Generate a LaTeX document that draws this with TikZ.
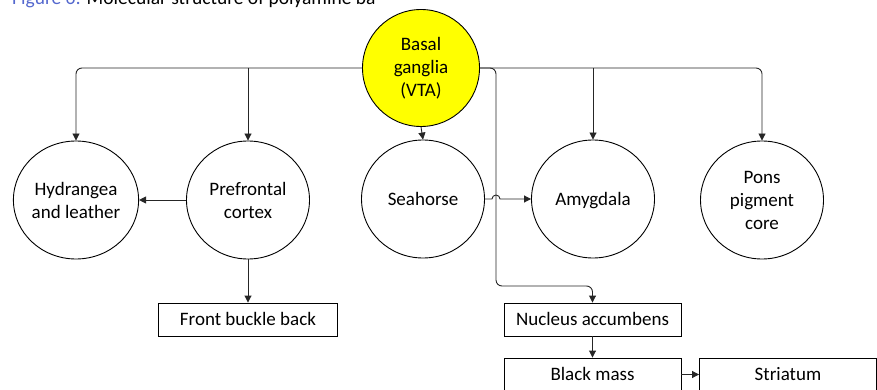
\documentclass[tikz,border=0pt]{standalone}
\usepackage{fontspec}
\setmainfont{Carlito}
\usetikzlibrary{arrows.meta,shapes.geometric}
\definecolor{capblue}{RGB}{84,104,206}
\definecolor{vtayellow}{RGB}{255,255,0}
\begin{document}
\begin{tikzpicture}[x=1pt,y=-1pt,
  every node/.style={font=\fontsize{19}{23}\selectfont, align=center},
  one line/.style={text height=14pt, text depth=2pt},
  region/.style={draw=black, line width=0.9pt, ellipse, minimum width=123pt, minimum height=118pt, inner sep=0pt},
  hub/.style={draw=black, line width=0.9pt, circle, fill=vtayellow, minimum size=117pt, inner sep=0pt},
  label box/.style={draw=black, line width=0.9pt, rectangle, minimum width=177pt, minimum height=33pt, inner sep=0pt, one line},
  link/.style={line width=0.9pt, draw=black!85, -{Triangle[length=7pt,width=7pt]}}]
\useasboundingbox (0,0) rectangle (877,390);

% caption line along the top edge
\node[anchor=base west, inner sep=0pt, font=\fontsize{19.5}{23}\selectfont] (cap) at (12,5)
  {\textcolor{capblue}{Figure 6:} Molecular structure of polyamine ba};

% hub and target regions
\node[hub] (vta) at (421,68) {Basal\\ganglia\\(VTA)};
\node[region] (hyd)  at (76,200)  {Hydrangea\\and leather};
\node[region] (pfc)  at (248,200) {Prefrontal\\cortex};
\node[region, one line] (sea)  at (423,199) {Seahorse};
\node[region, one line] (amy)  at (593,199) {Amygdala};
\node[region] (pons) at (762,200) {Pons\\pigment\\core};

% rectangular targets
\node[label box, minimum width=179pt] (fbb) at (248,319.5) {Front buckle back};
\node[label box] (nac) at (592.5,319.5) {Nucleus accumbens};
\node[label box] (blk) at (592.5,374.5) {Black mass};
\node[label box] (str) at (788,374.5) {Striatum};

% branching bus from the hub
\coordinate (tapL) at (pfc.north |- vta.west);
\coordinate (tapA) at (amy.north |- vta.east);
\coordinate (drop) at (496,68);
\coordinate (bend) at (496,286);
\draw[link, rounded corners=6pt] (vta.west) -| (hyd.north);
\draw[link] (tapL) -- (pfc.north);
\draw[link] (vta.south) -- (sea.north);
\draw[link] (tapA) -- (amy.north);
\draw[link, rounded corners=6pt] (vta.east) -| (pons.north);
\draw[link, rounded corners=6pt] (vta.east) -- (drop) -- (bend) -| (nac.north);

% lateral and downward links
\draw[link] (pfc.west) -- (hyd.east);
\draw[link] (pfc.south) -- (fbb.north);
\coordinate (hopA) at (492,199);
\draw[link] (sea.east) -- (hopA) arc[start angle=180, end angle=0, radius=4pt] -- (amy.west);
\draw[link] (nac.south) -- (blk.north);
\draw[link] (blk.east) -- (str.west);
\end{tikzpicture}
\end{document}
